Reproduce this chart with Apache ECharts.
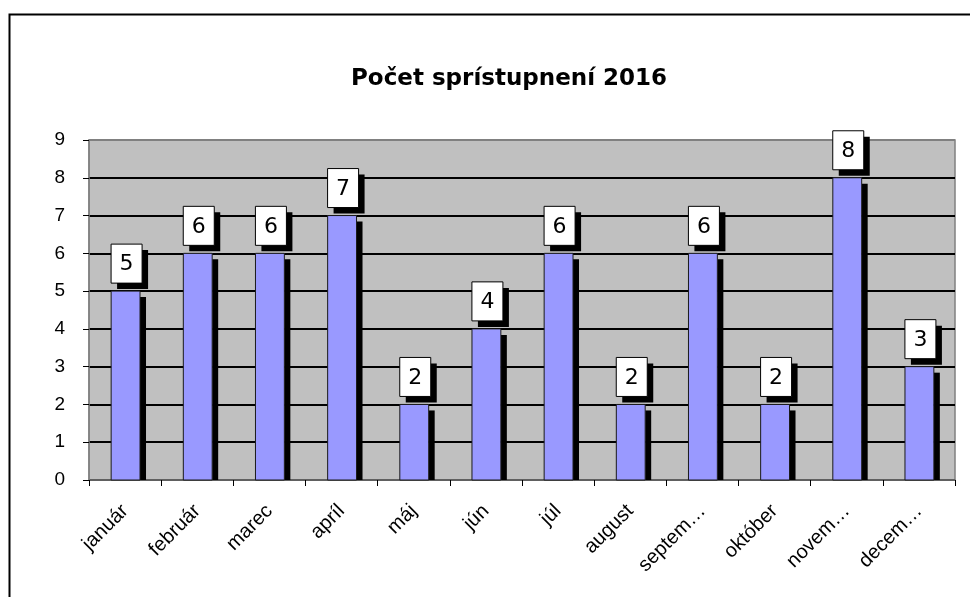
<!DOCTYPE html>
<html>
<head>
<meta charset="utf-8">
<script src="https://cdn.jsdelivr.net/npm/echarts@6/dist/echarts.min.js"></script>
<style>html,body{margin:0;padding:0;background:#fff}#c{width:970px;height:597px}</style>
</head>
<body>
<div id="c"></div>
<script>
const titleText = 'Počet sprístupnení 2016';
const categories = ['január','február','marec','apríl','máj','jún','júl','august','septem…','október','novem…','decem…'];
const values = [5, 6, 6, 7, 2, 4, 6, 2, 6, 2, 8, 3];
const yTicks = [0, 1, 2, 3, 4, 5, 6, 7, 8, 9];

const chart = echarts.init(document.getElementById('c'), null, {renderer: 'canvas'});
const FONT = 'Liberation Sans, Arial, sans-serif';

function renderItem(params, api) {
  const cat = api.value(0);
  const v = api.value(1);
  const top = api.coord([cat, v]);
  const base = api.coord([cat, 0]);
  const bw = api.size([1, 0])[0] * 0.4;
  const cx = top[0] + 0.5;
  const x0 = cx - bw / 2;
  const boxW = 31, boxH = 39, gap = 8, sh = 6;
  const bx = cx - boxW / 2 + 1;
  const by = top[1] - gap - boxH;
  return {
    type: 'group',
    children: [
      {type: 'rect', shape: {x: x0 + bw, y: top[1] + sh, width: sh, height: base[1] - top[1] - sh}, style: {fill: '#000'}},
      {type: 'rect', shape: {x: x0, y: top[1], width: bw, height: base[1] - top[1]}, style: {fill: '#9999FF', stroke: '#1a1a1a', lineWidth: 1}},
      {type: 'rect', shape: {x: bx + sh, y: by + sh, width: boxW, height: boxH}, style: {fill: '#000'}},
      {type: 'rect', shape: {x: bx, y: by, width: boxW, height: boxH}, style: {fill: '#fff', stroke: '#000', lineWidth: 1}},
      {type: 'text', x: bx + boxW / 2, y: by + boxH / 2 + 1, style: {text: String(v), fill: '#000', fontFamily: 'DejaVu Sans', fontSize: 22, align: 'center', verticalAlign: 'middle'}}
    ]
  };
}

chart.setOption({
  animation: false,
  backgroundColor: '#fff',
  graphic: [{
    type: 'rect', left: 7, top: 12, z: -1,
    shape: {x: 0, y: 0, width: 1000, height: 700},
    style: {fill: 'none', stroke: '#000', lineWidth: 2}
  }],
  title: {
    text: titleText,
    left: 346, top: 63,
    textStyle: {fontFamily: 'DejaVu Sans', fontWeight: 'bold', fontSize: 23, color: '#000'}
  },
  grid: {
    left: 89, right: 15, top: 140, bottom: 117,
    show: true, backgroundColor: '#C0C0C0', borderColor: '#808080', borderWidth: 1.5
  },
  xAxis: {
    type: 'category',
    data: categories,
    boundaryGap: true,
    axisLine: {lineStyle: {color: '#808080', width: 1.5}},
    axisTick: {show: true, length: 6, alignWithLabel: false, lineStyle: {color: '#000'}},
    axisLabel: {rotate: 45, fontSize: 20, fontFamily: FONT, color: '#000', margin: 28, interval: 0},
    splitLine: {show: false}
  },
  yAxis: {
    type: 'value',
    min: yTicks[0], max: yTicks[yTicks.length - 1], interval: 1,
    axisLine: {show: true, lineStyle: {color: '#808080', width: 1.5}},
    axisTick: {show: true, length: 6, lineStyle: {color: '#000'}},
    axisLabel: {fontSize: 19, fontFamily: FONT, color: '#000', margin: 24},
    splitLine: {show: true, lineStyle: {color: ['#000','#000','#000','#000','#000','#000','#000','#000','#000','#808080'], width: 2}}
  },
  series: [{
    type: 'custom',
    renderItem: renderItem,
    data: values.map((v, i) => [i, v]),
    encode: {x: 0, y: 1},
    clip: false,
    z: 3
  }]
});
</script>
</body>
</html>
